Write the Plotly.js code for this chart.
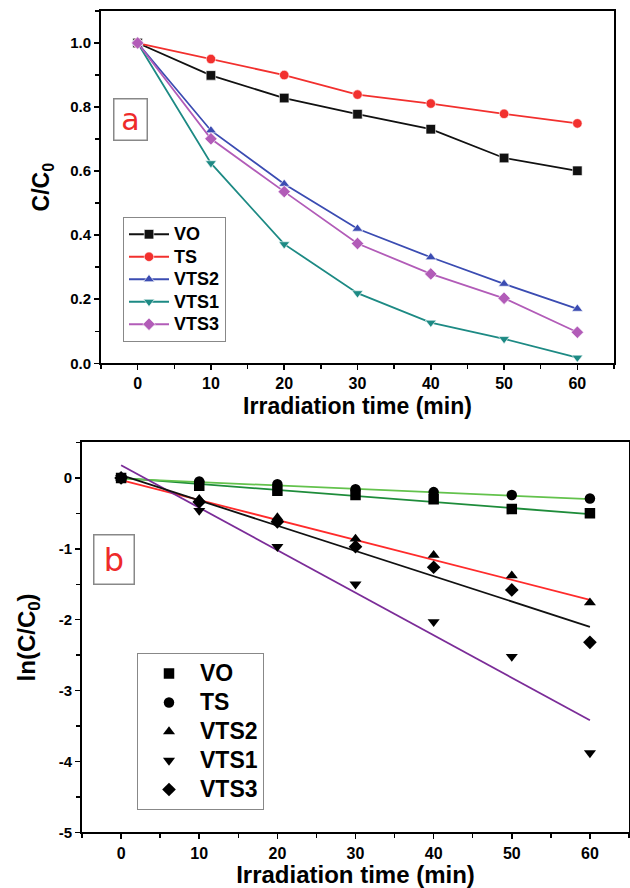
<!DOCTYPE html>
<html>
<head>
<meta charset="utf-8">
<script src="https://cdn.plot.ly/plotly-3.0.1.min.js"></script>
<style>html,body{margin:0;padding:0;background:#fff;}#chart{width:630px;height:888px;}</style>
</head>
<body>
<div id="chart"></div>
<script>
// ---- data ----
var times = [0, 10, 20, 30, 40, 50, 60];
var seriesNames = ['VO', 'TS', 'VTS2', 'VTS1', 'VTS3'];

// panel a: C/C0
var ratioVO   = [1.0, 0.899, 0.828, 0.778, 0.731, 0.641, 0.601];
var ratioTS   = [1.0, 0.950, 0.900, 0.839, 0.811, 0.779, 0.749];
var ratioVTS2 = [1.0, 0.727, 0.560, 0.420, 0.331, 0.248, 0.170];
var ratioVTS1 = [1.0, 0.625, 0.372, 0.219, 0.127, 0.076, 0.018];
var ratioVTS3 = [1.0, 0.701, 0.536, 0.374, 0.279, 0.203, 0.097];

// panel b: ln(C/C0)
var lnVO   = [0, -0.11, -0.18, -0.24, -0.30, -0.44, -0.50];
var lnTS   = [0, -0.05, -0.09, -0.16, -0.20, -0.24, -0.29];
var lnVTS2 = [0, -0.30, -0.56, -0.86, -1.09, -1.38, -1.76];
var lnVTS1 = [0, -0.46, -0.97, -1.50, -2.03, -2.52, -3.88];
var lnVTS3 = [0, -0.34, -0.62, -0.97, -1.26, -1.58, -2.32];

// panel b: linear fit lines (value at t=0 and t=60)
var fitTimes = [0, 60];
var fitVO   = [0.00, -0.51];
var fitTS   = [-0.01, -0.30];
var fitVTS2 = [-0.03, -1.72];
var fitVTS1 = [0.18, -3.42];
var fitVTS3 = [0.04, -2.10];

var xTicks = [0, 10, 20, 30, 40, 50, 60];
var yTicksA = [0.0, 0.2, 0.4, 0.6, 0.8, 1.0];
var yTickTextA = ['0.0', '0.2', '0.4', '0.6', '0.8', '1.0'];
var yTicksB = [-5, -4, -3, -2, -1, 0];
var yTickTextB = ['-5', '-4', '-3', '-2', '-1', '0'];

// ---- styles ----
var FONT = 'Liberation Sans, Arial, sans-serif';
var colorsA = ['#111111', '#f2302e', '#3b4cb2', '#1d8a84', '#b25cb8'];
var symbolsA = ['square', 'circle', 'triangle-up', 'triangle-down', 'diamond'];
var ratios = [ratioVO, ratioTS, ratioVTS2, ratioVTS1, ratioVTS3];
var lns = [lnVO, lnTS, lnVTS2, lnVTS1, lnVTS3];
var fits = [fitVO, fitTS, fitVTS2, fitVTS1, fitVTS3];
var fitColors = ['#1e8c3a', '#63c24c', '#ff2b2b', '#7b2c98', '#111111'];

function sized(txt, px) { return '<span style="font-size:' + px + 'px">' + txt + '</span>'; }

var traces = [];
for (var i = 0; i < seriesNames.length; i++) {
  traces.push({
    x: times, y: ratios[i], name: sized(seriesNames[i], 18), type: 'scatter', mode: 'lines+markers',
    xaxis: 'x', yaxis: 'y', legend: 'legend',
    line: {color: colorsA[i], width: 1.8},
    marker: {symbol: symbolsA[i], size: 9.5, color: colorsA[i], line: {color: '#ffffff', width: 0.6}}
  });
}
for (var j = 0; j < seriesNames.length; j++) {
  traces.push({
    x: fitTimes, y: fits[j], type: 'scatter', mode: 'lines', showlegend: false,
    xaxis: 'x2', yaxis: 'y2', hoverinfo: 'skip',
    line: {color: fitColors[j], width: 1.8}
  });
}
for (var k = 0; k < seriesNames.length; k++) {
  traces.push({
    x: times, y: lns[k], name: sized(seriesNames[k], 23), type: 'scatter', mode: 'markers',
    xaxis: 'x2', yaxis: 'y2', legend: 'legend2',
    marker: {symbol: symbolsA[k], size: 10.5, color: '#000000'}
  });
}

function axisBase() {
  return {
    showline: true, linecolor: '#000', linewidth: 2, mirror: true,
    ticks: 'outside', ticklen: 5, tickwidth: 1.5, tickcolor: '#000',
    showgrid: false, zeroline: false,
    tickfont: {family: FONT, size: 16, color: '#000', weight: 'bold'},
    minor: {ticks: 'outside', ticklen: 4, tickwidth: 1.5, tickcolor: '#000', showgrid: false}
  };
}

var xa = axisBase();
Object.assign(xa, {domain: [0.1603, 0.9746], range: [-5, 65], tickvals: xTicks, anchor: 'y',
  minor: Object.assign(axisBase().minor, {dtick: 5, tick0: 0}),
  title: {text: 'Irradiation time (min)', font: {family: FONT, size: 23, color: '#000', weight: 'bold'}, standoff: 6}});
var ya = axisBase();
Object.assign(ya, {domain: [0.5909, 0.9876], range: [0, 1.1], tickvals: yTicksA, ticktext: yTickTextA, anchor: 'x',
  tickfont: {family: FONT, size: 15, color: '#000', weight: 'bold'},
  minor: Object.assign(axisBase().minor, {dtick: 0.1, tick0: 0}),
  title: {text: 'C/C<sub>0</sub>', font: {family: FONT, size: 23, color: '#000', weight: 'bold'}, standoff: 14}});
var xb = axisBase();
Object.assign(xb, {domain: [0.1302, 0.9984], range: [-5, 65], tickvals: xTicks, anchor: 'y2',
  minor: Object.assign(axisBase().minor, {dtick: 5, tick0: 0}),
  title: {text: 'Irradiation time (min)', font: {family: FONT, size: 24, color: '#000', weight: 'bold'}, standoff: 6}});
var yb = axisBase();
Object.assign(yb, {domain: [0.0627, 0.5017], range: [-5, 0.5], tickvals: yTicksB, ticktext: yTickTextB, anchor: 'x2',
  tickfont: {family: FONT, size: 15, color: '#000', weight: 'bold'},
  minor: Object.assign(axisBase().minor, {dtick: 0.5, tick0: 0}),
  title: {text: 'ln(C/C<sub>0</sub>)', font: {family: FONT, size: 24, color: '#000', weight: 'bold'}, standoff: 16}});

var layout = {
  width: 630, height: 888,
  margin: {l: 0, r: 0, t: 0, b: 0},
  paper_bgcolor: '#fff', plot_bgcolor: '#fff',
  showlegend: true,
  xaxis: xa, yaxis: ya, xaxis2: xb, yaxis2: yb,
  legend: {
    x: 123 / 630, y: (888 - 217) / 888, xanchor: 'left', yanchor: 'top',
    bgcolor: '#fff', bordercolor: '#888', borderwidth: 1,
    font: {family: FONT, size: 15, color: '#000', weight: 'bold'},
    itemwidth: 40, tracegroupgap: 0
  },
  legend2: {
    x: 137 / 630, y: (888 - 653) / 888, xanchor: 'left', yanchor: 'top',
    bgcolor: '#fff', bordercolor: '#888', borderwidth: 1,
    font: {family: FONT, size: 20, color: '#000', weight: 'bold'},
    itemwidth: 52, tracegroupgap: 0
  },
  annotations: [
    {text: 'a', xref: 'paper', yref: 'paper', x: 130 / 630, y: (888 - 120) / 888,
     xanchor: 'center', yanchor: 'middle', showarrow: false, width: 30, height: 38,
     font: {family: 'DejaVu Sans, sans-serif', size: 30, color: '#ee2a2a'},
     bordercolor: '#888', borderwidth: 1.5, borderpad: 1, bgcolor: '#fff'},
    {text: 'b', xref: 'paper', yref: 'paper', x: 114 / 630, y: (888 - 559) / 888,
     xanchor: 'center', yanchor: 'middle', showarrow: false, width: 37, height: 46,
     font: {family: 'DejaVu Sans, sans-serif', size: 32, color: '#ee2a2a'},
     bordercolor: '#888', borderwidth: 1.5, borderpad: 1, bgcolor: '#fff'}
  ]
};

Plotly.newPlot('chart', traces, layout, {staticPlot: true, displayModeBar: false});
</script>
</body>
</html>
